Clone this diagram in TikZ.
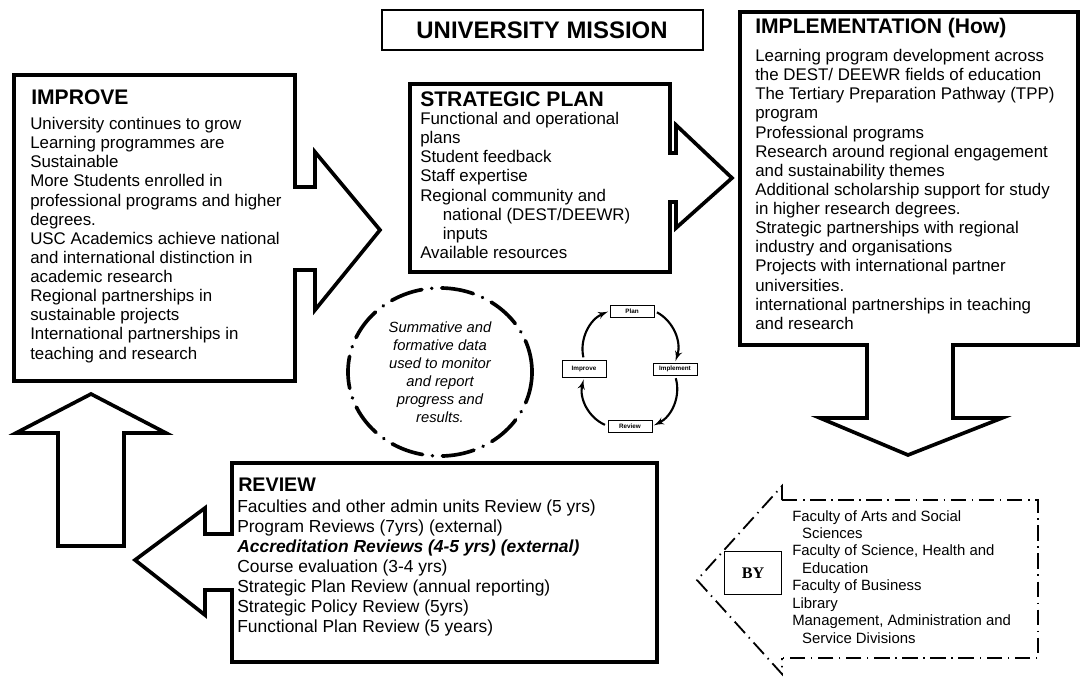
\documentclass[tikz,border=0pt]{standalone}
\usepackage{fontspec}
\setmainfont{Liberation Sans}
\newfontfamily\byserif{Liberation Serif}
\usepackage{tikz}
\usetikzlibrary{arrows}
\tikzstyle{heavy} = [draw, line width=2.6pt, line join=miter]
\tikzstyle{title} = [anchor=west, inner sep=0pt, font=\fontsize{15}{17}\selectfont\bfseries]
\tikzstyle{body} = [anchor=north west, inner sep=0pt, align=left, font=\fontsize{12}{13.6}\selectfont]
\tikzstyle{ring} = [draw, line width=2.6pt, line cap=round, dash pattern=on 23pt off 7pt on 0.1pt off 7pt]
\tikzstyle{dotdash} = [draw, line width=1.3pt, dash pattern=on 11pt off 4pt on 1pt off 4pt]
\tikzstyle{cycbox} = [draw, line width=0.7pt, inner sep=1pt, minimum width=1.1cm, minimum height=0.3cm, font=\fontsize{4.5}{5}\selectfont\bfseries]
\tikzstyle{cycline} = [draw, line width=1.5pt, -latex', shorten <=2pt, shorten >=1pt]

\begin{document}
\begin{tikzpicture}[x=0.025cm, y=-0.025cm]
\useasboundingbox (0,0) rectangle (1084,679);
%
\draw[line width=0.9pt] (382,10) rectangle (703,50);
\node[font=\fontsize{17}{19}\selectfont\bfseries] (mission) at (542,30) {UNIVERSITY MISSION};
%
\draw[heavy] (14,75) -- (295,75) -- (295,187) -- (315,187) -- (315,152) -- (380,230)
  -- (315,310) -- (315,270) -- (295,270) -- (295,381) -- (14,381) -- cycle;
\node[title] (improvetitle) at (31,97) {IMPROVE};
\node[body] (improvebody) at (30,117) {University continues to grow\\Learning programmes are\\Sustainable\\More Students enrolled in\\professional programs and higher\\degrees.\\USC Academics achieve national\\and international distinction in\\academic research\\Regional partnerships in\\sustainable projects\\International partnerships in\\teaching and research};
%
\draw[heavy] (410,84) -- (670,84) -- (670,153) -- (676,153) -- (676,125) -- (732,178)
  -- (676,228) -- (676,202) -- (670,202) -- (670,272) -- (410,272) -- cycle;
\node[title] (plantitle) at (420,99) {STRATEGIC PLAN};
\node[body] (planbody) at (420,112) {Functional and operational\\plans\\Student feedback\\Staff expertise\\Regional community and\\\hspace*{16pt}national (DEST/DEEWR)\\\hspace*{16pt}inputs\\Available resources};
%
\draw[heavy] (740,12) -- (1078,12) -- (1078,345) -- (953,345) -- (953,418) -- (1002,418)
  -- (908,455) -- (820,418) -- (867,418) -- (867,345) -- (740,345) -- cycle;
\node[title] (howtitle) at (755,28) {IMPLEMENTATION (How)};
\node[body] (howbody) at (755,49) {Learning program development across\\the DEST/ DEEWR fields of education\\The Tertiary Preparation Pathway (TPP)\\program\\Professional programs\\Research around regional engagement\\and sustainability themes\\Additional scholarship support for study\\in higher research degrees.\\Strategic partnerships with regional\\industry and organisations\\Projects with international partner\\universities.\\international partnerships in teaching\\and research};
%
\node[align=center, font=\fontsize{10.5}{12.8}\selectfont\itshape] (monitor) at (440,372) {Summative and\\formative data\\used to monitor\\and report\\progress and\\results.};
\draw[ring] (monitor.center) ellipse [x radius=2.3cm, y radius=2.1cm];
%
\node[cycbox] (plan) at (632,311) {Plan};
\node[cycbox] (implement) at (675,369) {Implement};
\node[cycbox] (review) at (630,426) {Review};
\node[cycbox, minimum height=0.42cm] (improve) at (584,369) {Improve};
\draw[cycline] (plan.east) to[bend left=40] (implement.north);
\draw[cycline] (implement.south) to[bend left=40] (review.east);
\draw[cycline] (review.west) to[bend left=40] (improve.south);
\draw[cycline] (improve.north) to[bend left=40] (plan.west);
%
\draw[heavy] (58,546) -- (58,433) -- (16,433) -- (91,394) -- (166,433) -- (124,433)
  -- (124,546) -- cycle;
%
\draw[heavy] (232,463) -- (657,463) -- (657,662) -- (232,662) -- (232,590) -- (205,590)
  -- (205,615) -- (135,560) -- (205,508) -- (205,534) -- (232,534) -- cycle;
\node[title, font=\fontsize{14}{16}\selectfont\bfseries] (reviewtitle) at (238,485) {REVIEW};
\node[body, font=\fontsize{12.4}{14.2}\selectfont] (reviewbody) at (237,500) {Faculties and other admin units Review (5 yrs)\\Program Reviews (7yrs) (external)\\\textbf{\textit{Accreditation Reviews (4-5 yrs) (external)}}\\Course evaluation (3-4 yrs)\\Strategic Plan Review (annual reporting)\\Strategic Policy Review (5yrs)\\Functional Plan Review (5 years)};
%
\draw[dotdash] (782,500) -- (782,486) -- (697,580) -- (782,674) -- (782,658);
\draw[dotdash] (782,500) -- (1038,500) -- (1038,658) -- (782,658);
\node[draw, line width=0.8pt, minimum width=1.425cm, minimum height=1.075cm, font=\byserif\fontsize{11.5}{13}\selectfont\bfseries] (by) at (753,573) {BY};
\node[body, font=\fontsize{10.6}{12.4}\selectfont] (faculties) at (792,510) {Faculty of Arts and Social\\\hspace*{7pt}Sciences\\Faculty of Science, Health and\\\hspace*{7pt}Education\\Faculty of Business\\Library\\Management, Administration and\\\hspace*{7pt}Service Divisions};
\end{tikzpicture}
\end{document}
